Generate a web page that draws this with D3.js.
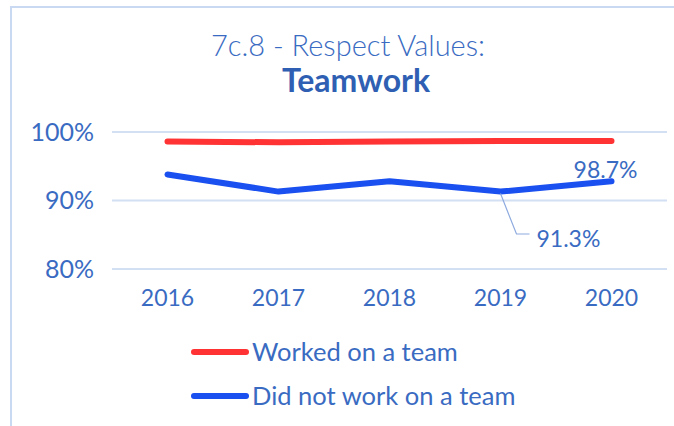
<!DOCTYPE html>
<html>
<head>
<meta charset="utf-8">
<script src="https://cdn.jsdelivr.net/npm/d3@7"></script>
<style>
  body { margin: 0; background: #fff; }
  svg { display: block; font-family: 'Lato', 'Noto Sans', sans-serif; }
</style>
</head>
<body>
<div id="chart"></div>
<script>
// chart data
const years = ['2016', '2017', '2018', '2019', '2020'];
const worked = [98.6, 98.5, 98.6, 98.7, 98.7];
const notWorked = [93.8, 91.3, 92.8, 91.3, 92.8];
const yTicks = [80, 90, 100];
const seriesNames = ['Worked on a team', 'Did not work on a team'];
const seriesColors = ['#ff3333', '#1a4ff0'];

const width = 674, height = 426;
const textColor = '#3a6bc2';

const svg = d3.select('#chart').append('svg')
  .attr('width', width)
  .attr('height', height);

// outer frame (only top and left edges visible)
svg.append('path')
  .attr('d', 'M11,430 L11,7 L680,7')
  .attr('fill', 'none')
  .attr('stroke', '#c8d9f1')
  .attr('stroke-width', 2);

// title
svg.append('text')
  .attr('x', 348).attr('y', 56)
  .attr('text-anchor', 'middle')
  .attr('fill', textColor)
  .attr('font-size', 29)
  .attr('font-weight', 300)
  .text('7c.8 - Respect Values:');
svg.append('text')
  .attr('x', 356).attr('y', 92)
  .attr('text-anchor', 'middle')
  .attr('fill', '#2f5fb3')
  .attr('font-size', 32)
  .attr('font-weight', 'bold')
  .text('Teamwork');

const x = d3.scaleBand().domain(years).range([112, 667]);
const y = d3.scaleLinear().domain([80, 100]).range([269, 132]);

// gridlines
svg.append('g')
  .selectAll('line')
  .data(yTicks)
  .enter().append('line')
  .attr('x1', 112).attr('x2', 667)
  .attr('y1', d => y(d)).attr('y2', d => y(d))
  .attr('stroke', '#d3e0f4')
  .attr('stroke-width', 2);

// y labels
svg.append('g')
  .selectAll('text')
  .data(yTicks)
  .enter().append('text')
  .attr('x', 94)
  .attr('y', d => y(d))
  .attr('dy', '0.35em')
  .attr('text-anchor', 'end')
  .attr('fill', textColor)
  .attr('font-size', 25)
  .text(d => d + '%');

// x labels
svg.append('g')
  .selectAll('text')
  .data(years)
  .enter().append('text')
  .attr('x', d => x(d) + x.bandwidth() / 2)
  .attr('y', 298)
  .attr('dy', '0.35em')
  .attr('text-anchor', 'middle')
  .attr('fill', textColor)
  .attr('font-size', 23)
  .text(d => d);

const line = d3.line()
  .x((d, i) => x(years[i]) + x.bandwidth() / 2)
  .y(d => y(d));

[worked, notWorked].forEach((vals, i) => {
  svg.append('path')
    .datum(vals)
    .attr('d', line)
    .attr('fill', 'none')
    .attr('stroke', seriesColors[i])
    .attr('stroke-width', 6)
    .attr('stroke-linecap', 'round')
    .attr('stroke-linejoin', 'round');
});

// data labels
const px = i => x(years[i]) + x.bandwidth() / 2;
svg.append('text')
  .attr('x', px(4) + 26).attr('y', 178)
  .attr('text-anchor', 'end')
  .attr('fill', textColor)
  .attr('font-size', 23)
  .text(worked[4].toFixed(1) + '%');

svg.append('path')
  .attr('d', `M${px(3)},${y(notWorked[3]) + 2} L${px(3) + 16},${234} L${px(3) + 29},${234}`)
  .attr('fill', 'none')
  .attr('stroke', '#8eaadf')
  .attr('stroke-width', 1.2);
svg.append('text')
  .attr('x', px(3) + 36).attr('y', 239)
  .attr('dy', '0.35em')
  .attr('fill', textColor)
  .attr('font-size', 23)
  .text(notWorked[3].toFixed(1) + '%');

// legend
const legend = svg.append('g')
  .selectAll('g')
  .data(seriesNames)
  .enter().append('g')
  .attr('transform', (d, i) => `translate(0, ${352 + i * 44})`);
legend.append('line')
  .attr('x1', 194).attr('x2', 246)
  .attr('stroke', (d, i) => seriesColors[i])
  .attr('stroke-width', 6)
  .attr('stroke-linecap', 'round');
legend.append('text')
  .attr('x', 252)
  .attr('dy', '0.35em')
  .attr('fill', textColor)
  .attr('font-size', 25.5)
  .text(d => d);
</script>
</body>
</html>
